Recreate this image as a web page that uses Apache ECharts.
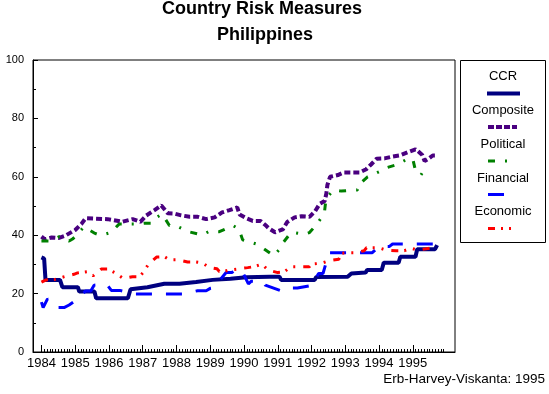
<!DOCTYPE html>
<html><head><meta charset="utf-8">
<script src="https://cdn.jsdelivr.net/npm/echarts@6/dist/echarts.min.js"></script>
<style>html,body{margin:0;padding:0;background:#fff}#c{width:549px;height:394px}</style>
</head><body><div id="c"></div>
<script>
const yearTicks = [1984,1985,1986,1987,1988,1989,1990,1991,1992,1993,1994,1995];
const yTicks = [0,20,40,60,80,100];

const ccrT = [1984.0,1984.08,1984.12,1984.55,1984.62,1985.08,1985.12,1985.57,1985.62,1986.56,1986.64,1987.14,1987.64,1988.09,1988.58,1989.07,1989.6,1990.07,1990.76,1991.05,1991.1,1992.09,1992.14,1993.07,1993.18,1993.6,1993.65,1994.08,1994.14,1994.58,1994.63,1995.08,1995.13,1995.66,1995.72];
const ccrV = [32.4,32.0,24.7,24.7,22.2,22.2,20.7,20.7,18.4,18.4,21.5,22.2,23.4,23.4,24.0,24.7,25.1,25.6,25.8,25.8,24.7,24.7,25.7,25.8,26.9,27.2,28.1,28.1,30.6,30.6,32.6,32.6,35.2,35.2,36.6];

const compT = [1984.0,1984.1,1984.3,1984.5,1984.7,1985.0,1985.18,1985.31,1985.96,1986.4,1986.7,1986.93,1987.1,1987.35,1987.55,1987.74,1987.94,1988.14,1988.39,1988.63,1988.88,1989.13,1989.35,1989.57,1989.8,1989.87,1990.07,1990.26,1990.49,1990.66,1990.73,1990.92,1991.15,1991.28,1991.5,1991.71,1991.94,1992.11,1992.24,1992.39,1992.44,1992.47,1992.55,1992.78,1992.96,1993.42,1993.62,1993.77,1993.93,1994.16,1994.39,1994.61,1994.85,1995.08,1995.15,1995.28,1995.35,1995.45,1995.59,1995.7];
const compV = [39.5,38.6,39.2,39.0,39.8,41.8,43.8,45.8,45.5,44.6,45.5,44.6,46.7,48.6,50.2,47.5,47.4,46.8,46.3,46.3,45.5,46.1,47.8,48.6,49.5,47.1,45.8,44.9,44.9,43.2,42.4,41.0,42.0,44.5,46.1,46.5,46.3,48.3,50.7,51.7,54.3,57.2,60.0,60.6,61.5,61.5,62.6,64.3,66.2,66.3,66.9,67.3,68.4,69.4,68.8,67.5,65.4,66.1,67.3,67.3];

const polT = [1984.0,1984.23,1984.53,1984.57,1984.82,1984.92,1985.0,1985.26,1985.3,1985.59,1985.71,1985.81,1986.05,1986.3,1986.45,1986.84,1987.05,1987.25,1987.35,1987.58,1987.79,1987.97,1988.36,1988.76,1988.95,1989.27,1989.67,1989.85,1989.96,1990.36,1990.49,1990.88,1991.12,1991.17,1991.4,1991.79,1991.94,1992.16,1992.38,1992.43,1992.66,1992.88,1993.36,1993.39,1993.66,1994.0,1994.16,1994.48,1994.85,1995.0,1995.08,1995.24,1995.32,1995.37];
const polV = [38.0,38.0,39.5,38.9,38.0,38.7,39.5,42.9,43.5,40.6,40.1,40.1,40.9,43.8,43.8,43.8,44.1,44.1,45.8,47.2,43.3,43.3,41.2,40.1,41.2,41.2,43.3,42.1,38.4,37.0,36.1,33.0,36.1,37.6,41.0,40.3,40.9,43.8,47.5,52.6,55.5,55.1,55.5,57.2,60.0,61.7,62.9,64.0,66.1,66.1,62.1,60.6,62.1,62.3];

const finT = [1984.0,1984.05,1984.18,1984.47,1984.67,1984.82,1984.97,1985.31,1985.46,1985.56,1985.93,1986.07,1986.32,1986.78,1987.25,1987.71,1988.17,1988.63,1988.88,1989.0,1989.1,1989.47,1989.64,1989.73,1989.93,1990.13,1990.21,1990.56,1990.63,1991.08,1991.3,1991.4,1991.58,1992.04,1992.11,1992.21,1992.34,1992.48,1992.53,1993.42,1993.8,1994.0,1994.3,1994.4,1995.1,1995.64];
const finV = [17.1,15.2,18.2,15.2,15.2,16.1,17.3,20.9,20.9,22.9,23.2,21.1,21.1,19.9,19.9,19.9,19.9,21.0,21.0,21.8,22.0,27.2,27.2,28.1,28.1,23.3,24.2,24.2,22.9,21.0,21.0,21.9,21.9,22.9,24.9,26.9,26.9,32.4,34.0,34.0,34.0,36.1,36.1,37.0,37.0,37.0];

const ecoT = [1984.0,1984.14,1984.38,1984.68,1984.96,1985.07,1985.36,1985.53,1985.77,1985.95,1986.17,1986.42,1986.7,1986.9,1987.02,1987.16,1987.41,1987.65,1987.79,1988.04,1988.33,1988.58,1988.77,1988.96,1989.2,1989.27,1989.41,1989.57,1989.79,1990.11,1990.29,1990.53,1990.71,1991.0,1991.18,1991.4,1991.94,1991.99,1992.29,1992.53,1992.81,1992.88,1993.13,1993.29,1993.56,1993.63,1993.99,1994.21,1994.51,1994.75,1994.95,1995.15,1995.5,1995.65];
const ecoV = [23.9,24.7,24.8,25.8,26.6,27.1,27.5,26.1,28.4,28.4,27.2,25.2,25.8,25.8,27.3,29.9,32.5,32.6,31.6,31.6,30.8,30.8,30.5,29.0,28.5,27.6,27.6,28.1,28.4,28.9,29.2,30.1,28.1,27.2,27.4,29.2,29.2,30.1,30.4,31.3,31.8,33.8,34.0,34.0,34.7,35.7,35.7,34.9,34.7,34.7,35.5,34.9,35.5,35.5];

const monthTicks = [];
for (let i = 0; i < 144; i++) monthTicks.push(1984 + i / 12);

const zip = (t, v) => t.map((x, i) => [x, v[i]]);
const FONT = '"Liberation Sans", Arial, sans-serif';

const chart = echarts.init(document.getElementById('c'), null, {renderer: 'canvas'});
chart.setOption({
  animation: false,
  backgroundColor: '#fff',
  grid: {left: 33, right: 94, top: 60, bottom: 42, show: true, borderColor: '#000', borderWidth: 1, containLabel: false},
  xAxis: [{
    type: 'value', min: 1983.75, max: 1996.25, position: 'bottom',
    axisLine: {show: true, onZero: false, lineStyle: {color: '#000', width: 1}},
    axisTick: {show: true, inside: true, length: 7, customValues: yearTicks, lineStyle: {color: '#000'}},
    axisLabel: {show: true, customValues: yearTicks, margin: 5, color: '#000', fontSize: 13, fontFamily: FONT, formatter: v => String(Math.round(v))},
    splitLine: {show: false}
  }, {
    type: 'value', min: 1983.75, max: 1996.25, position: 'bottom', gridIndex: 0,
    axisLine: {show: false, onZero: false},
    axisTick: {show: true, inside: true, length: 3, customValues: monthTicks, lineStyle: {color: '#000'}},
    axisLabel: {show: false},
    splitLine: {show: false}
  }],
  yAxis: {
    type: 'value', min: 0, max: 100, interval: 20,
    axisLine: {show: true, lineStyle: {color: '#000', width: 1}},
    axisTick: {show: true, inside: true, length: 5, lineStyle: {color: '#000'}},
    minorTick: {show: true, splitNumber: 2, length: 3, lineStyle: {color: '#000'}},
    axisLabel: {margin: 9, color: '#000', fontSize: 11, fontFamily: FONT},
    splitLine: {show: false}
  },
  series: [
    {name: 'CCR', type: 'line', showSymbol: false, data: zip(ccrT, ccrV), lineStyle: {color: '#000080', width: 4, cap: 'butt'}},
    {name: 'Composite', type: 'line', showSymbol: false, data: zip(compT, compV), lineStyle: {color: '#4a0080', width: 4, type: [6, 3], cap: 'butt'}},
    {name: 'Political', type: 'line', showSymbol: false, data: zip(polT, polV), lineStyle: {color: '#008000', width: 3, type: [7, 10, 2, 10], cap: 'butt'}},
    {name: 'Financial', type: 'line', showSymbol: false, data: zip(finT, finV), lineStyle: {color: '#0000ff', width: 3, type: [16, 14], cap: 'butt'}},
    {name: 'Economic', type: 'line', showSymbol: false, data: zip(ecoT, ecoV), lineStyle: {color: '#ff0000', width: 3, type: [7, 6, 2, 7, 2, 8], cap: 'butt'}}
  ],
  graphic: [
    {type: 'text', x: 262, y: 9, style: {text: 'Country Risk Measures', fill: '#000', font: 'bold 18px ' + FONT, align: 'center', verticalAlign: 'middle'}},
    {type: 'text', x: 265, y: 35.5, style: {text: 'Philippines', fill: '#000', font: 'bold 18px ' + FONT, align: 'center', verticalAlign: 'middle'}},
    {type: 'rect', shape: {x: 460.5, y: 60.5, width: 85, height: 182}, style: {fill: '#fff', stroke: '#000', lineWidth: 1}},
    {type: 'text', x: 503, y: 76.5, style: {text: 'CCR', fill: '#000', font: '13px ' + FONT, align: 'center', verticalAlign: 'middle'}},
    {type: 'line', shape: {x1: 487, y1: 93.5, x2: 520, y2: 93.5}, style: {stroke: '#000080', lineWidth: 4}},
    {type: 'text', x: 503, y: 110, style: {text: 'Composite', fill: '#000', font: '13px ' + FONT, align: 'center', verticalAlign: 'middle'}},
    {type: 'line', shape: {x1: 488, y1: 127, x2: 517, y2: 127}, style: {stroke: '#4a0080', lineWidth: 4, lineDash: [6, 2]}},
    {type: 'text', x: 503, y: 144.5, style: {text: 'Political', fill: '#000', font: '13px ' + FONT, align: 'center', verticalAlign: 'middle'}},
    {type: 'line', shape: {x1: 488, y1: 161, x2: 508, y2: 161}, style: {stroke: '#008000', lineWidth: 3, lineDash: [7, 10, 2, 10]}},
    {type: 'text', x: 503, y: 178.5, style: {text: 'Financial', fill: '#000', font: '13px ' + FONT, align: 'center', verticalAlign: 'middle'}},
    {type: 'line', shape: {x1: 488, y1: 194.5, x2: 504, y2: 194.5}, style: {stroke: '#0000ff', lineWidth: 3}},
    {type: 'text', x: 503, y: 211.5, style: {text: 'Economic', fill: '#000', font: '13px ' + FONT, align: 'center', verticalAlign: 'middle'}},
    {type: 'line', shape: {x1: 488, y1: 228.5, x2: 512, y2: 228.5}, style: {stroke: '#ff0000', lineWidth: 3, lineDash: [7, 6, 2, 6, 2, 8]}},
    {type: 'text', x: 545, y: 379, style: {text: 'Erb-Harvey-Viskanta: 1995', fill: '#000', font: '13.5px ' + FONT, align: 'right', verticalAlign: 'middle'}}
  ]
});
</script>
</body></html>
